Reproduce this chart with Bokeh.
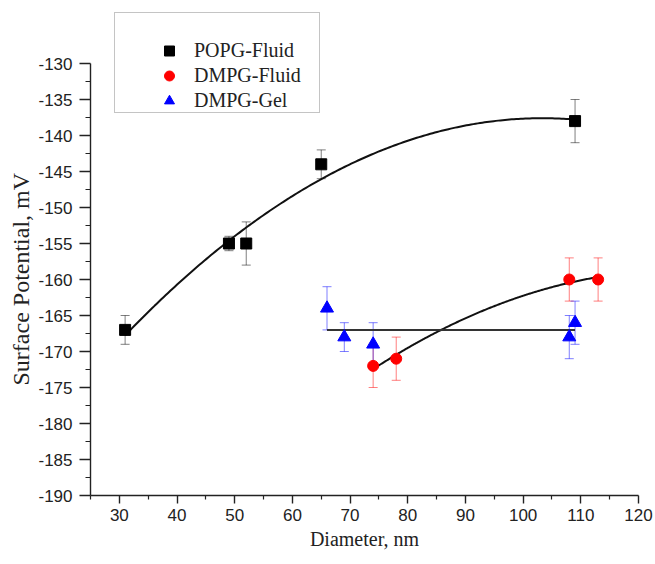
import numpy as np
from bokeh.plotting import figure
from bokeh.models import (ColumnDataSource, Whisker, TeeHead, Legend, LegendItem,
                          FixedTicker, Range1d, PrintfTickFormatter, Title)
from bokeh.embed import file_html
from bokeh.resources import INLINE

# Surface potential versus vesicle diameter
popg_d = [31, 49, 52, 65, 109]
popg_psi = [-167, -155, -155, -144, -138]
popg_err = [2, 1, 3, 2, 3]

dmpg_fluid_d = [74, 78, 108, 113]
dmpg_fluid_psi = [-172, -171, -160, -160]
dmpg_fluid_err = [3, 3, 3, 3]

dmpg_gel_d = [66, 69, 74, 108, 109]
dmpg_gel_psi = [-164, -168, -169, -168, -166]
dmpg_gel_err = [3, 2, 3, 3, 3]

x_ticks = [30, 40, 50, 60, 70, 80, 90, 100, 110, 120]
x_minor = [25, 35, 45, 55, 65, 75, 85, 95, 105, 115]
y_ticks = [-190, -185, -180, -175, -170, -165, -160, -155, -150, -145, -140, -135, -130]
y_minor = [v + 2.5 for v in y_ticks[:-1]]

TICK_FONT = "Liberation Sans"
TITLE_FONT = "Liberation Serif"

# The plotting frame reaches up to the legend box; the axis itself stops at -130
FRAME_TOP, FRAME_BOTTOM = 10, 495
y_lo, y_hi = y_ticks[0], y_ticks[-1]
axis_px = 432.0
y_top = y_lo + (y_hi - y_lo) * (FRAME_BOTTOM - FRAME_TOP) / axis_px

p = figure(width=655, height=564, output_backend="svg", toolbar_location=None,
           x_range=Range1d(25, 120), y_range=Range1d(y_lo, y_top),
           min_border_left=90, min_border_right=17,
           min_border_top=FRAME_TOP, min_border_bottom=564 - FRAME_BOTTOM)
p.outline_line_color = None
p.xgrid.visible = False
p.ygrid.visible = False
p.background_fill_color = "white"
p.border_fill_color = "white"

for ax in (p.xaxis[0], p.yaxis[0]):
    ax.axis_line_color = "#222222"
    ax.axis_line_width = 1.4
    ax.major_tick_line_color = "#222222"
    ax.minor_tick_line_color = "#222222"
    ax.major_tick_line_width = 1.4
    ax.minor_tick_line_width = 1.2
    ax.major_tick_in = 0
    ax.minor_tick_in = 0
    ax.major_label_text_font = TICK_FONT
    ax.major_label_text_font_size = "17px"
    ax.major_label_text_color = "#222222"
    ax.formatter = PrintfTickFormatter(format="%d")

p.xaxis.ticker = FixedTicker(ticks=x_ticks, minor_ticks=x_minor)
p.xaxis.major_tick_out = 8
p.xaxis.minor_tick_out = 4
p.xaxis.major_label_standoff = 5
p.xaxis.axis_label = "Diameter, nm"
p.xaxis.axis_label_text_font = TITLE_FONT
p.xaxis.axis_label_text_font_style = "normal"
p.xaxis.axis_label_text_color = "#222222"
p.xaxis.axis_label_text_font_size = "20px"
p.xaxis.axis_label_standoff = 4

p.yaxis.ticker = FixedTicker(ticks=y_ticks, minor_ticks=y_minor)
p.yaxis.bounds = (y_lo, y_hi)
p.yaxis.major_tick_out = 11
p.yaxis.minor_tick_out = 5
p.yaxis.major_label_standoff = 7

# Y-axis title, placed along the axis span rather than the taller frame
p.add_layout(Title(text="Surface Potential, mV", align="left", offset=110,
                   text_font=TITLE_FONT, text_font_style="normal", text_font_size="24px",
                   text_color="#222222", standoff=4), "left")


def add_errors(d, psi, err, color):
    src = ColumnDataSource(dict(
        x=d,
        upper=[v + e for v, e in zip(psi, err)],
        lower=[v - e for v, e in zip(psi, err)],
    ))
    head = dict(size=9, line_color=color, line_alpha=0.5, line_width=1)
    p.add_layout(Whisker(base="x", upper="upper", lower="lower", source=src,
                         line_color=color, line_alpha=0.5, line_width=1,
                         upper_head=TeeHead(**head), lower_head=TeeHead(**head)))


add_errors(popg_d, popg_psi, popg_err, "black")
add_errors(dmpg_fluid_d, dmpg_fluid_psi, dmpg_fluid_err, "red")
add_errors(dmpg_gel_d, dmpg_gel_psi, dmpg_gel_err, "blue")

# Fitted trends: quadratic for the fluid phases, constant for the gel phase
xs = np.linspace(min(popg_d), max(popg_d), 200)
p.line(xs, np.polyval(np.polyfit(popg_d, popg_psi, 2), xs), line_color="#111111", line_width=2)

xs = np.linspace(min(dmpg_fluid_d), max(dmpg_fluid_d), 200)
p.line(xs, np.polyval(np.polyfit(dmpg_fluid_d, dmpg_fluid_psi, 2), xs),
       line_color="#111111", line_width=2)

xs = np.array([min(dmpg_gel_d), max(dmpg_gel_d)])
p.line(xs, np.polyval(np.polyfit(dmpg_gel_d, dmpg_gel_psi, 0), xs),
       line_color="#333333", line_width=2)

sq = p.scatter(popg_d, popg_psi, marker="square", size=11, color="black")
ci = p.scatter(dmpg_fluid_d, dmpg_fluid_psi, marker="circle", size=11, color="red")
tr = p.scatter(dmpg_gel_d, dmpg_gel_psi, marker="triangle", size=13, color="blue")

# Legend frame (empty entry sized to the box) and the legend entries on top of it
blank = p.scatter(x=[], y=[], fill_alpha=0, line_alpha=0)
frame_box = Legend(items=[LegendItem(label=" ", renderers=[blank])],
                   location=(24, 382), padding=0, margin=0, spacing=0,
                   glyph_width=20, glyph_height=99, label_width=179, label_height=99,
                   label_standoff=5, border_line_color="#8a8a8a", border_line_width=1.3,
                   background_fill_color="white", background_fill_alpha=1)
entries = Legend(items=[LegendItem(label="POPG-Fluid", renderers=[sq]),
                        LegendItem(label="DMPG-Fluid", renderers=[ci]),
                        LegendItem(label="DMPG-Gel", renderers=[tr])],
                 location=(64, 382), padding=0, margin=0, spacing=0,
                 glyph_width=30, glyph_height=25, label_height=25, label_standoff=10,
                 border_line_alpha=0, background_fill_alpha=0,
                 label_text_font=TITLE_FONT, label_text_font_size="20px",
                 label_text_color="#222222")
p.add_layout(frame_box, "center")
p.add_layout(entries, "center")

open("out.html", "w").write(file_html(p, INLINE))
